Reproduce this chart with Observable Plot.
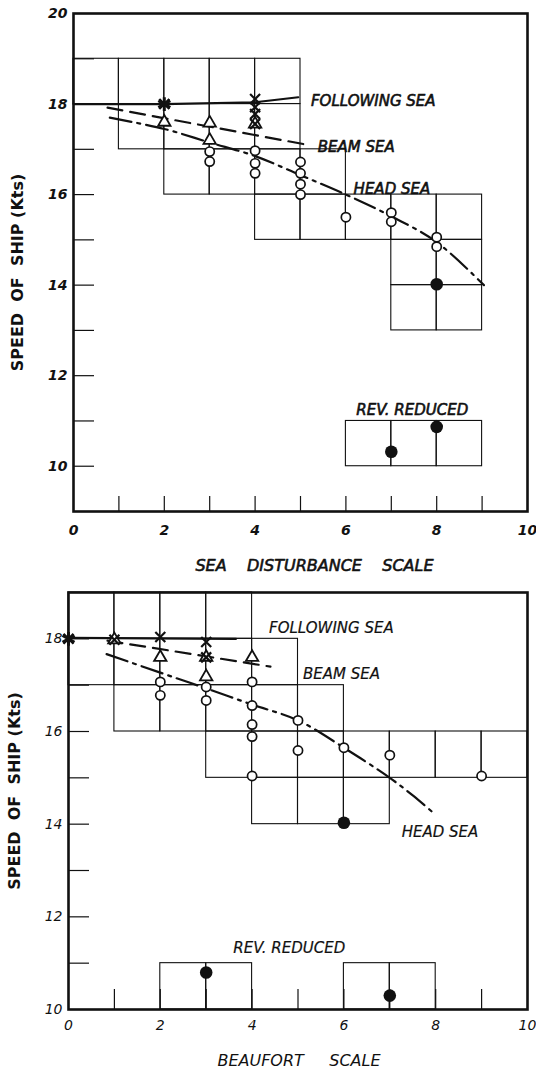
<!DOCTYPE html>
<html>
<head>
<meta charset="utf-8">
<script src="https://cdn.jsdelivr.net/npm/d3@7"></script>
<script src="https://cdn.jsdelivr.net/npm/@observablehq/plot@0.6"></script>
<style>
  body { margin: 0; background: #fff; }
  #charts svg { display: block; }
</style>
</head>
<body>
<div id="charts"></div>
<script>
// ---- Panel 1: speed vs sea disturbance scale ----
// observations as [scale, knots]
const seaFollowing = [[2, 18.0], [4, 18.11], [4, 17.93], [4, 17.78], [4, 17.56]];
const seaFollowingStar = [[2, 18.0]];
const seaBeam = [[2, 17.6], [3, 17.58], [3, 17.2], [4, 17.56]];
const seaHead = [[3, 16.95], [3, 16.73], [4, 16.97], [4, 16.69], [4, 16.47],
                 [5, 16.72], [5, 16.47], [5, 16.23], [5, 16.0], [6, 15.5],
                 [7, 15.6], [7, 15.4], [8, 15.06], [8, 14.85]];
const seaReduced = [[8, 14.02], [7, 10.32], [8, 10.87]];
// faired curves
const seaFollowingCurve = [[0, 18.0], [2, 18.0], [4, 18.04], [4.95, 18.15]];
const seaBeamCurve = [[0.75, 17.92], [5.15, 17.1]];
const seaHeadCurve = [[0.8, 17.7], [2, 17.45], [3, 17.15], [4, 16.85], [5, 16.43],
                      [6, 16.0], [7, 15.52], [8, 14.95], [9.04, 14.0]];
// scatter boxes, lower-left corner of each unit cell
const seaCells = [[0, 18], [1, 18], [2, 18], [3, 18], [4, 18],
                  [1, 17], [2, 17], [3, 17], [4, 17],
                  [2, 16], [3, 16], [4, 16], [5, 16],
                  [4, 15], [5, 15], [6, 15], [7, 15], [8, 15],
                  [7, 14], [8, 14], [7, 13], [8, 13],
                  [6, 10], [7, 10], [8, 10]];
const seaLabels = ["FOLLOWING SEA", "BEAM SEA", "HEAD SEA", "REV. REDUCED"];
const seaLabelX = [5.23, 5.38, 6.17, 6.23];
const seaLabelY = [18.07, 17.05, 16.13, 11.24];
const seaYLabels = [10, 12, 14, 16, 18, 20];
const seaYTicks = [10, 11, 12, 13, 14, 15, 16, 17, 18, 19];

// ---- Panel 2: speed vs Beaufort scale ----
const bftFollowing = [[0, 18.0], [1, 17.98], [2, 18.04], [3, 17.93], [3, 17.6]];
const bftFollowingStar = [[0, 18.0]];
const bftBeam = [[1, 17.98], [2, 17.6], [3, 17.6], [3, 17.18], [4, 17.6]];
const bftHead = [[2, 17.07], [2, 16.78], [3, 16.96], [3, 16.67], [4, 17.07],
                 [4, 16.56], [4, 16.15], [4, 15.89], [4, 15.04], [5, 16.24],
                 [5, 15.59], [6, 15.65], [7, 15.49], [9, 15.04]];
const bftReduced = [[6, 14.03], [3, 10.8], [7, 10.3]];
const bftFollowingCurve = [[0, 18.02], [3.65, 18.0]];
const bftBeamCurve = [[0.85, 17.96], [4.4, 17.4]];
const bftHeadCurve = [[0.83, 17.67], [2, 17.27], [3, 16.93], [4, 16.58], [5, 16.24],
                      [6, 15.65], [7, 15.0], [7.5, 14.62], [8, 14.2]];
const bftCells = [[0, 18], [1, 18], [2, 18], [3, 18],
                  [0, 17], [1, 17], [2, 17], [3, 17], [4, 17],
                  [1, 16], [2, 16], [3, 16], [4, 16], [5, 16],
                  [3, 15], [4, 15], [5, 15], [6, 15], [7, 15], [8, 15], [9, 15],
                  [4, 14], [5, 14], [6, 14],
                  [2, 10], [3, 10], [6, 10], [7, 10]];
const bftLabels = ["FOLLOWING SEA", "BEAM SEA", "HEAD SEA", "REV. REDUCED"];
const bftLabelX = [4.37, 5.11, 7.26, 3.59];
const bftLabelY = [18.24, 17.24, 13.83, 11.32];
const bftYLabels = [10, 12, 14, 16, 18];
const bftYTicks = [11, 12, 13, 14, 15, 16, 17, 18];

const xLabels = [0, 2, 4, 6, 8, 10];
const xTicks = [1, 2, 3, 4, 5, 6, 7, 8, 9];
const NB = "\u00a0";

function panel(o) {
  const W = 536;
  const frameW = W - o.ml - o.mr;
  const frameH = o.h - o.mt - o.mb;
  const px = d => d[0], py = d => d[1];
  const labelRows = o.labels.map((t, i) => ({t, x: o.labelX[i], y: o.labelY[i]}));
  return Plot.plot({
    width: W, height: o.h,
    marginLeft: o.ml, marginRight: o.mr, marginTop: o.mt, marginBottom: o.mb,
    x: {domain: [0, 10], axis: null},
    y: {domain: o.yDomain, axis: null},
    style: {fontFamily: "'DejaVu Sans', sans-serif", background: "white", color: "#111", overflow: "visible"},
    marks: [
      Plot.rect(o.cells, {x1: px, x2: d => d[0] + 1, y1: py, y2: d => d[1] + 1,
        fill: "none", stroke: "#111", strokeWidth: 1.1}),
      Plot.tickY(o.yTicks, {y: d => d, insetRight: frameW - 21, stroke: "#111", strokeWidth: 1.2}),
      Plot.tickX(xTicks, {x: d => d, insetTop: frameH - o.xTickLen, stroke: "#111", strokeWidth: 1.2}),
      Plot.line(o.followCurve, {x: px, y: py, stroke: "#111", strokeWidth: 2.2}),
      Plot.line(o.beamCurve, {x: px, y: py, stroke: "#111", strokeWidth: 2.2, strokeDasharray: "15,8"}),
      Plot.line(o.headCurve, {x: px, y: py, stroke: "#111", strokeWidth: 2.2, strokeDasharray: "22,6,3,6", curve: "catmull-rom"}),
      Plot.dot(o.head, {x: px, y: py, r: 4.6, fill: "white", stroke: "#111", strokeWidth: 1.7}),
      Plot.dot(o.beam, {x: px, y: py, symbol: "triangle", r: 4.6, fill: "white", stroke: "#111", strokeWidth: 1.8}),
      Plot.dot(o.following, {x: px, y: py, symbol: "times", r: 4.6, stroke: "#111", strokeWidth: 2.2}),
      Plot.dot(o.star, {x: px, y: py, symbol: "asterisk", r: 6.5, stroke: "#111", strokeWidth: 3}),
      Plot.dot(o.reduced, {x: px, y: py, r: 6.3, fill: "#111"}),
      Plot.text(labelRows, {x: "x", y: "y", text: "t", textAnchor: "start", fontSize: 15,
        fontStyle: "italic", fill: "#111", stroke: "#111", strokeWidth: o.labelStroke}),
      Plot.axisY(o.yLabels, {tickSize: 0, tickPadding: 6, label: null, fontSize: 14,
        fontStyle: "italic", fontWeight: o.tickWeight, fill: "#111"}),
      Plot.axisX(xLabels, {tickSize: 0, tickPadding: o.xPad, label: null, fontSize: 14,
        fontStyle: "italic", fontWeight: o.tickWeight, fill: "#111"}),
      Plot.frame({stroke: "#111", strokeWidth: 2.6}),
      Plot.text([o.yTitle], {frameAnchor: "left", textAnchor: "middle", lineAnchor: "middle",
        rotate: -90, dx: o.yTitleDx, dy: o.yTitleDy,
        fontSize: 16, fontWeight: "bold", fill: "#111"}),
      Plot.text([o.xTitle], {frameAnchor: "bottom", textAnchor: "middle", lineAnchor: "middle",
        dx: o.xTitleDx, dy: o.xTitleDy,
        fontSize: 16, fontStyle: "italic", fill: "#111", stroke: "#111", strokeWidth: o.xTitleStroke})
    ]
  });
}

const charts = document.getElementById("charts");

charts.append(panel({
  h: 578, ml: 73, mr: 9, mt: 13, mb: 67,
  yDomain: [9, 20], yLabels: seaYLabels, yTicks: seaYTicks, xTickLen: 15, xPad: 14,
  cells: seaCells, following: seaFollowing, star: seaFollowingStar, beam: seaBeam,
  head: seaHead, reduced: seaReduced,
  followCurve: seaFollowingCurve, beamCurve: seaBeamCurve, headCurve: seaHeadCurve,
  labels: seaLabels, labelX: seaLabelX, labelY: seaLabelY, labelStroke: 0.6,
  tickWeight: "bold",
  yTitle: `SPEED${NB}${NB}OF${NB}${NB}SHIP${NB}(Kts)`, yTitleDx: -56, yTitleDy: 10,
  xTitle: `SEA${NB}${NB}${NB}${NB}DISTURBANCE${NB}${NB}${NB}${NB}SCALE`, xTitleDx: 14, xTitleDy: 54,
  xTitleStroke: 0.6
}));

charts.append(panel({
  h: 491, ml: 68, mr: 9, mt: 14, mb: 60,
  yDomain: [10, 19], yLabels: bftYLabels, yTicks: bftYTicks, xTickLen: 20, xPad: 11,
  cells: bftCells, following: bftFollowing, star: bftFollowingStar, beam: bftBeam,
  head: bftHead, reduced: bftReduced,
  followCurve: bftFollowingCurve, beamCurve: bftBeamCurve, headCurve: bftHeadCurve,
  labels: bftLabels, labelX: bftLabelX, labelY: bftLabelY, labelStroke: 0.2,
  tickWeight: "normal",
  yTitle: `SPEED${NB}${NB}OF${NB}${NB}SHIP${NB}(Kts)`, yTitleDx: -54, yTitleDy: -10,
  xTitle: `BEAUFORT${NB}${NB}${NB}${NB}${NB}SCALE`, xTitleDx: 1, xTitleDy: 51,
  xTitleStroke: 0
}));
</script>
</body>
</html>
